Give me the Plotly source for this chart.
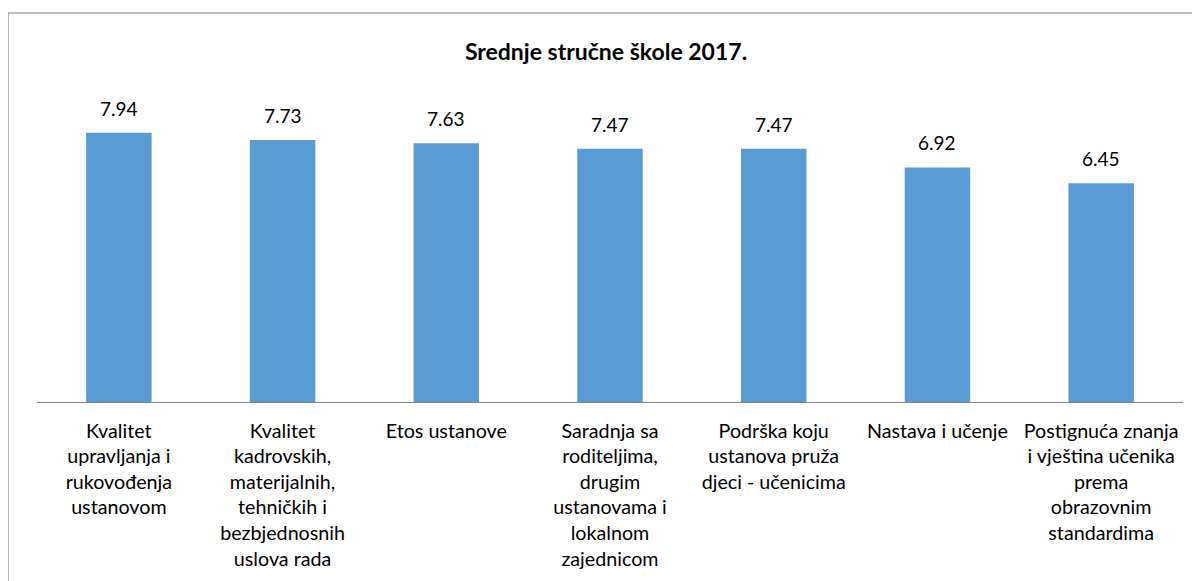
import plotly.graph_objects as go

categories = [
    "Kvalitet<br>upravljanja i<br>rukovođenja<br>ustanovom",
    "Kvalitet<br>kadrovskih,<br>materijalnih,<br>tehničkih i<br>bezbjednosnih<br>uslova rada",
    "Etos ustanove",
    "Saradnja sa<br>roditeljima,<br>drugim<br>ustanovama i<br>lokalnom<br>zajednicom",
    "Podrška koju<br>ustanova pruža<br>djeci - učenicima",
    "Nastava i učenje",
    "Postignuća znanja<br>i vještina učenika<br>prema<br>obrazovnim<br>standardima",
]
values = [7.94, 7.73, 7.63, 7.47, 7.47, 6.92, 6.45]
value_labels = ["7.94", "7.73", "7.63", "7.47", "7.47", "6.92", "6.45"]
title_text = "<b>Srednje stručne škole 2017.</b>"

W, H = 1200, 581
OFF = 8  # page body margin
ml, mr = 37 - OFF, 17 + OFF
mt, mb = 63 - OFF, 179 + OFF
pw, ph = W - ml - mr, H - mt - mb

font_family = "Lato, Open Sans, sans-serif"

fig = go.Figure()
fig.add_trace(go.Bar(
    x=list(range(len(categories))), y=values,
    marker=dict(color="#5B9BD5", line=dict(width=0)),
    width=0.4,
    hoverinfo="skip",
))

annotations = []
for i, (v, t) in enumerate(zip(values, value_labels)):
    annotations.append(dict(x=i, y=v, text=t, showarrow=False, yanchor="bottom",
                            yshift=11, font=dict(size=19, color="#000000", family=font_family)))

def px_x(p):
    return (p - OFF - ml) / pw

def px_y(p):
    return (H - mb - (p - OFF)) / ph

shapes = [
    dict(type="line", xref="paper", yref="paper", x0=px_x(8), x1=px_x(1220), y0=px_y(13), y1=px_y(13),
         line=dict(color="#A6A6A6", width=1.5)),
    dict(type="line", xref="paper", yref="paper", x0=px_x(8), x1=px_x(8), y0=px_y(13), y1=px_y(620),
         line=dict(color="#A6A6A6", width=1.5)),
]

fig.update_layout(
    width=W, height=H,
    margin=dict(l=ml, r=mr, t=mt, b=mb, autoexpand=False),
    paper_bgcolor="white", plot_bgcolor="white",
    showlegend=False,
    bargap=0.6,
    title=dict(text=title_text, x=px_x(606), xref="paper", xanchor="center",
               y=(H - (52 - OFF)) / H, yref="container", yanchor="middle",
               font=dict(size=23, color="#000000", family=font_family)),
    xaxis=dict(
        tickmode="array", tickvals=list(range(len(categories))), ticktext=categories,
        range=[-0.5, len(categories) - 0.5],
        showline=True, linecolor="#868686", linewidth=1,
        ticks="", showgrid=False, zeroline=False,
        tickangle=0,
        ticklabelstandoff=11,
        tickfont=dict(size=19.7, color="#000000", family=font_family),
    ),
    yaxis=dict(range=[0, 10], visible=False, showgrid=False, zeroline=False),
    annotations=annotations,
    shapes=shapes,
)

fig.write_html("out.html")
